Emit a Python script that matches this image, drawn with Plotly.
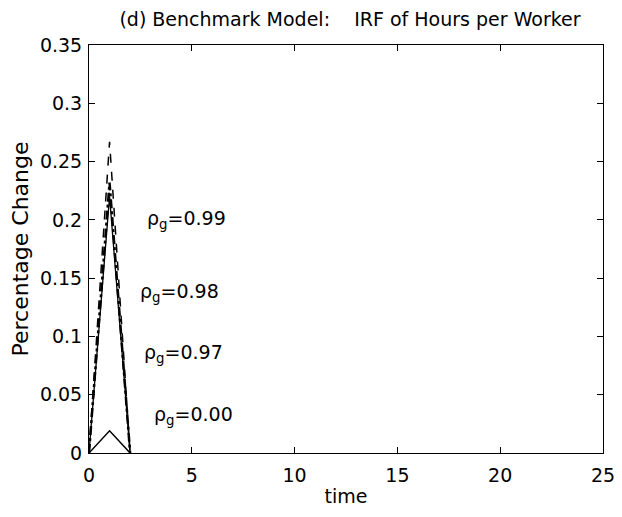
import plotly.graph_objects as go

time = [0, 1, 2]
irf_099 = [0.0, 0.267, 0.0]
irf_098 = [0.0, 0.232, 0.0]
irf_097 = [0.0, 0.220, 0.0]
irf_000 = [0.0, 0.019, 0.0]

labels = ["ρ<sub>g</sub>=0.99", "ρ<sub>g</sub>=0.98", "ρ<sub>g</sub>=0.97", "ρ<sub>g</sub>=0.00"]
label_x = [2.72, 2.38, 2.58, 3.06]
label_y = [0.200, 0.138, 0.085, 0.032]

FONT = "DejaVu Sans, Arial"

fig = go.Figure()
fig.add_trace(go.Scatter(x=time, y=irf_099, mode="lines", line=dict(color="black", width=1.5, dash="dash")))
fig.add_trace(go.Scatter(x=time, y=irf_098, mode="lines", line=dict(color="black", width=2.5, dash="dashdot")))
fig.add_trace(go.Scatter(x=time, y=irf_097, mode="lines", line=dict(color="black", width=1.3)))
fig.add_trace(go.Scatter(x=time, y=irf_000, mode="lines", line=dict(color="black", width=1.5)))

for t, x, y in zip(labels, label_x, label_y):
    fig.add_annotation(x=x, y=y, text=t, showarrow=False, xanchor="left", yanchor="middle",
                       font=dict(size=19, color="black", family=FONT))

axis_common = dict(showline=True, linecolor="black", linewidth=1, mirror="ticks", ticks="inside",
                   ticklen=6, tickcolor="black", showgrid=False, zeroline=False, automargin=False,
                   ticklabeloverflow="allow",
                   tickfont=dict(size=19, color="black", family=FONT))

fig.update_layout(
    width=614, height=501,
    paper_bgcolor="white", plot_bgcolor="white",
    showlegend=False,
    margin=dict(l=81, r=19, t=37, b=56),
    font=dict(family=FONT, size=19, color="black"),
    title=dict(text="(d) Benchmark Model:    IRF of Hours per Worker", x=0.557, xanchor="center",
               y=0.978, yanchor="middle", font=dict(size=19, family=FONT)),
    xaxis=dict(range=[0, 25], tickvals=[0, 5, 10, 15, 20, 25], ticklabelstandoff=5,
               title=dict(text="time", standoff=4, font=dict(size=19, family=FONT)), **axis_common),
    yaxis=dict(range=[0, 0.35], tickvals=[0, 0.05, 0.1, 0.15, 0.2, 0.25, 0.3, 0.35],
               ticktext=["0", "0.05", "0.1", "0.15", "0.2", "0.25", "0.3", "0.35"], ticklabelstandoff=2,
               title=dict(text="Percentage Change", standoff=8, font=dict(size=22, family=FONT)), **axis_common),
)

fig.write_html("out.html")
